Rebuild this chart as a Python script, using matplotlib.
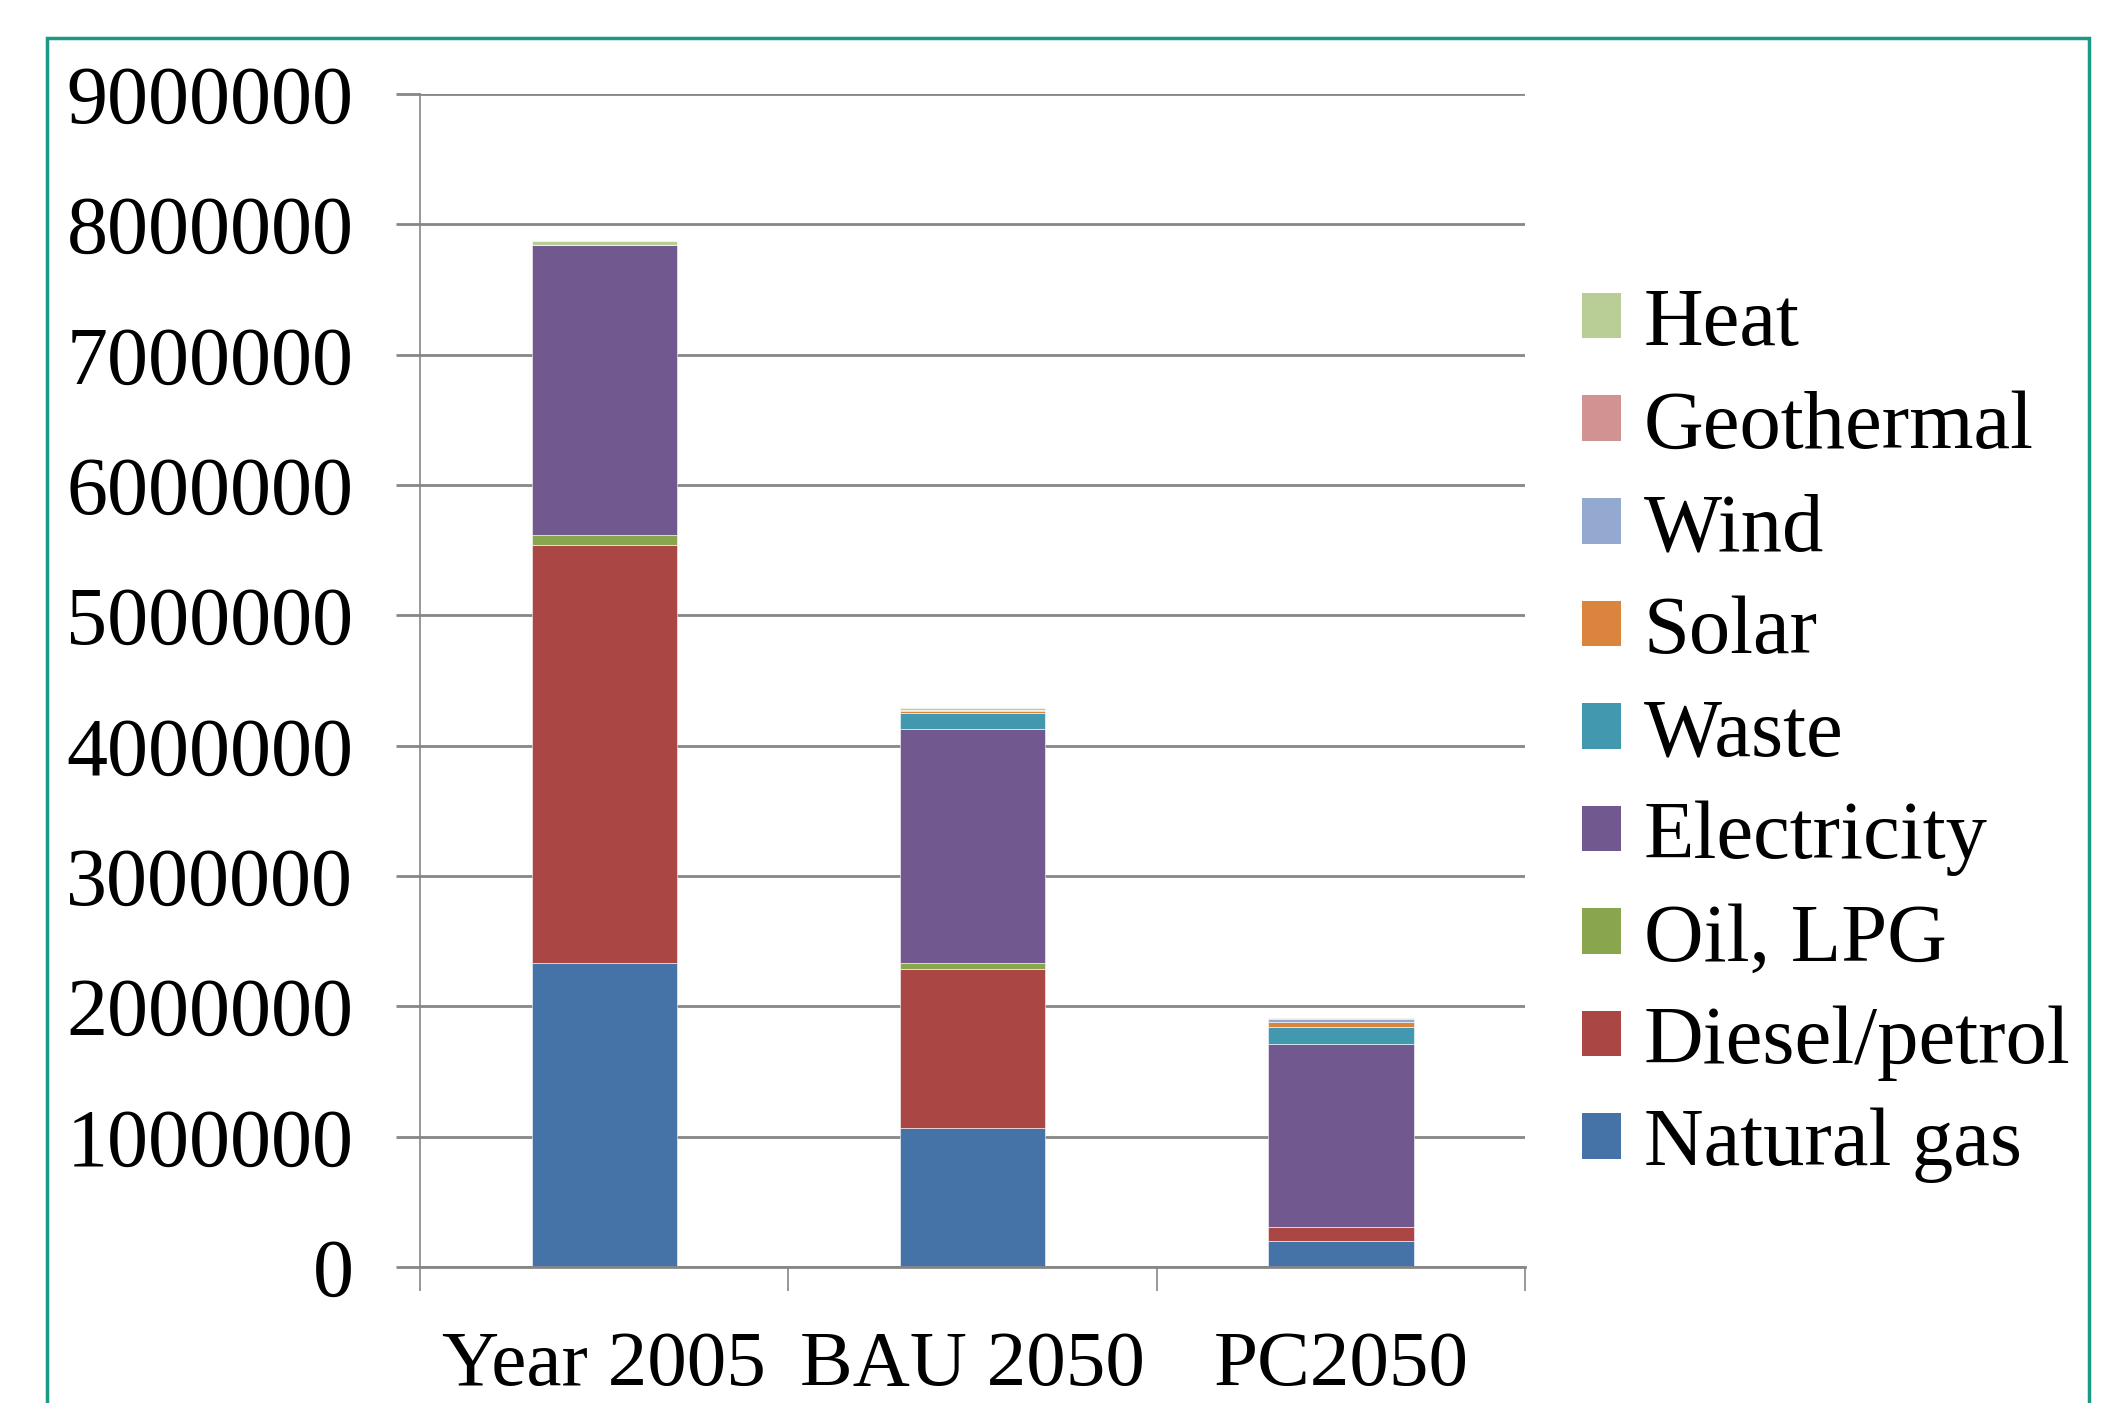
import matplotlib
matplotlib.use('Agg')
from matplotlib import pyplot as plt
from matplotlib.patches import Rectangle, Patch
import numpy as np

plt.rcParams['font.family'] = ['Liberation Serif', 'DejaVu Serif']

categories = ['Year 2005', 'BAU 2050', 'PC2050']

natural_gas = [2335000, 1064000, 200000]
diesel_petrol = [3205000, 1223000, 107000]
oil_lpg = [78000, 46000, 0]
electricity = [2225000, 1796000, 1404000]
waste = [0, 123000, 131000]
solar = [0, 15000, 40000]
wind = [0, 5000, 20000]
geothermal = [0, 5000, 5000]
heat = [31000, 8000, 5000]

series = [
    ('Natural gas', natural_gas, '#4572A7'),
    ('Diesel/petrol', diesel_petrol, '#AA4643'),
    ('Oil, LPG', oil_lpg, '#89A54E'),
    ('Electricity', electricity, '#71588F'),
    ('Waste', waste, '#4198AF'),
    ('Solar', solar, '#DB843D'),
    ('Wind', wind, '#93A9CF'),
    ('Geothermal', geothermal, '#D19392'),
    ('Heat', heat, '#B9CD96'),
]

fig = plt.figure(figsize=(21.11, 14.03), dpi=100)
ax = fig.add_axes([0.199, 0.097, 0.5235, 0.836])

x = np.arange(len(categories))
bottom = np.zeros(len(categories))
handles = []
for name, vals, col in series:
    ax.bar(x, vals, 0.395, bottom=bottom, color=col, edgecolor='white', linewidth=0.4)
    bottom += np.array(vals)
    handles.append(Patch(facecolor=col, label=name))

ax.set_xlim(-0.5, 2.5)
ax.set_ylim(0, 9000000)
ax.set_yticks(np.arange(0, 9000001, 1000000))
ax.set_yticklabels([str(v) for v in range(0, 9000001, 1000000)])
ax.yaxis.grid(True, color='#868686', linewidth=2)
ax.set_axisbelow(True)

for s in ['top', 'right']:
    ax.spines[s].set_visible(False)
ax.spines['left'].set_color('#868686')
ax.spines['bottom'].set_color('#868686')
ax.spines['left'].set_linewidth(1.2)
ax.spines['bottom'].set_linewidth(2)

ax.set_xticks(x)
ax.set_xticklabels(categories)
ax.set_xticks([-0.5, 0.5, 1.5, 2.5], minor=True)
ax.tick_params(axis='x', which='major', length=0, pad=46, labelsize=57)
ax.tick_params(axis='x', which='minor', length=17, width=1.2, color='#868686')
ax.tick_params(axis='y', length=17, width=2, color='#868686', pad=31, labelsize=59)

leg = fig.legend(handles=handles[::-1], loc='upper left', bbox_to_anchor=(0.7494, 0.795),
                 frameon=False, fontsize=59.5, handlelength=0.47, handleheight=0.47,
                 labelspacing=0.327, handletextpad=0.28, borderpad=0, borderaxespad=0)

fig.patches.append(Rectangle((0.0223, -0.1), 0.9675, 1.073, transform=fig.transFigure,
                             fill=False, edgecolor='#1A9A85', linewidth=2.5))

fig.savefig('out.png', dpi=100)
